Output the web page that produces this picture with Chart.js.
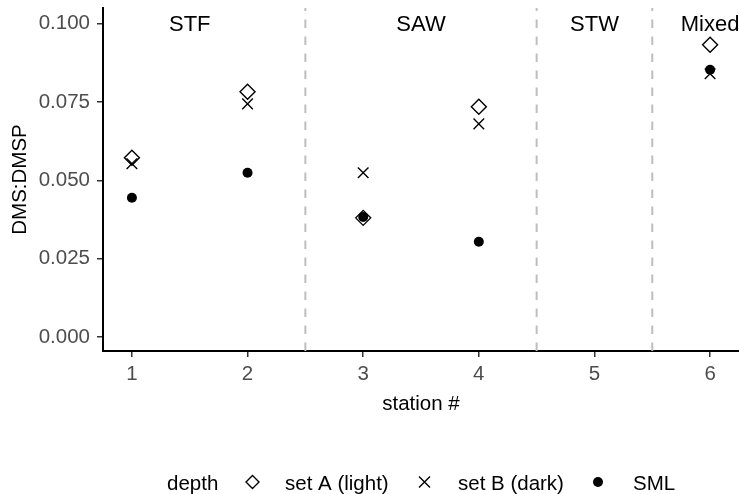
<!DOCTYPE html>
<html><head><meta charset="utf-8">
<script src="https://cdn.jsdelivr.net/npm/chart.js@4"></script>
<style>html,body{margin:0;padding:0;background:#fff;overflow:hidden}#wrap{width:739px;height:494px;position:relative}</style>
</head><body><div id="wrap"><canvas id="c" width="739" height="494"></canvas></div>
<script>
const stations = [1, 2, 3, 4, 6];
const setA = [0.0572, 0.0783, 0.0380, 0.0735, 0.0933];
const setB = [0.0553, 0.0744, 0.0524, 0.0680, 0.0840];
const sml = [0.0444, 0.0524, 0.0383, 0.0304, 0.0853];
const xTicks = [1, 2, 3, 4, 5, 6];
const yTicks = [0, 0.025, 0.05, 0.075, 0.1];
const boundaries = [2.5, 4.5, 5.5];
const regionNames = ['STF', 'SAW', 'STW', 'Mixed'];
const regionPos = [1.5, 3.5, 5, 6];
const legendTitle = 'depth';
const seriesNames = ['set A (light)', 'set B (dark)', 'SML'];

const FONT = "'Liberation Sans', Arial, sans-serif";
const toPts = arr => stations.map((s, i) => ({x: s, y: arr[i]}));

const decor = {
  id: 'decor',
  beforeDatasetsDraw(chart) {
    const {ctx, scales: {x, y}, chartArea: a} = chart;
    ctx.save();
    ctx.strokeStyle = '#bebebe';
    ctx.lineWidth = 2;
    ctx.setLineDash([8.5, 8.5]);
    boundaries.forEach(b => {
      const px = x.getPixelForValue(b);
      ctx.beginPath(); ctx.moveTo(px, a.bottom); ctx.lineTo(px, a.top); ctx.stroke();
    });
    ctx.restore();
    ctx.save();
    ctx.fillStyle = '#000';
    ctx.font = '22px ' + FONT;
    ctx.textAlign = 'center'; ctx.textBaseline = 'middle';
    regionNames.forEach((n, i) => {
      ctx.fillText(n, x.getPixelForValue(regionPos[i]), y.getPixelForValue(0.1) + 1);
    });
    ctx.restore();
  },
  afterDraw(chart) {
    const ctx = chart.ctx;
    ctx.save();
    ctx.fillStyle = '#000'; ctx.strokeStyle = '#000';
    ctx.font = '20.5px ' + FONT;
    ctx.textBaseline = 'alphabetic'; ctx.textAlign = 'left';
    const base = 490, cy = 482;
    ctx.fillText(legendTitle, 167, base);
    ctx.lineWidth = 1.4;
    let cx = 252.5;
    ctx.beginPath(); ctx.moveTo(cx, cy - 6.5); ctx.lineTo(cx + 6.5, cy); ctx.lineTo(cx, cy + 6.5); ctx.lineTo(cx - 6.5, cy); ctx.closePath(); ctx.stroke();
    ctx.fillText(seriesNames[0], 285, base);
    cx = 424.5;
    ctx.beginPath(); ctx.moveTo(cx - 5.5, cy - 5.5); ctx.lineTo(cx + 5.5, cy + 5.5); ctx.moveTo(cx + 5.5, cy - 5.5); ctx.lineTo(cx - 5.5, cy + 5.5); ctx.stroke();
    ctx.fillText(seriesNames[1], 458, base);
    cx = 598;
    ctx.beginPath(); ctx.arc(cx, cy, 5, 0, Math.PI * 2); ctx.fill();
    ctx.fillText(seriesNames[2], 633, base);
    ctx.restore();
  }
};

new Chart(document.getElementById('c'), {
  type: 'scatter',
  data: {
    datasets: [
      {label: seriesNames[0], data: toPts(setA), pointStyle: 'rectRot', pointRadius: 7.5, pointBorderWidth: 1.4, borderColor: '#000', backgroundColor: 'rgba(0,0,0,0)', pointBackgroundColor: 'rgba(0,0,0,0)'},
      {label: seriesNames[1], data: toPts(setB), pointStyle: 'crossRot', pointRadius: 7.5, pointBorderWidth: 1.4, borderColor: '#000', backgroundColor: '#000'},
      {label: seriesNames[2], data: toPts(sml), pointStyle: 'circle', pointRadius: 5, pointBorderWidth: 0, borderColor: '#000', backgroundColor: '#000'}
    ]
  },
  options: {
    responsive: false,
    animation: false,
    layout: {autoPadding: false, padding: {left: 0, right: 0, top: 8, bottom: 77}},
    plugins: {legend: {display: false}, tooltip: {enabled: false}},
    scales: {
      x: {
        type: 'linear', min: 0.75, max: 6.25,
        afterBuildTicks: s => { s.ticks = xTicks.map(v => ({value: v})); },
        afterFit: s => { s.height = 66; s.paddingLeft = 0; s.paddingRight = 0; },
        ticks: {color: '#4d4d4d', font: {family: FONT, size: 20.5}, padding: 5, maxRotation: 0, callback: v => String(v)},
        grid: {drawOnChartArea: false, drawTicks: true, tickLength: 6, color: '#333', lineWidth: 1.5},
        border: {display: true, color: '#000', width: 2},
        title: {display: true, text: 'station #', color: '#000', font: {family: FONT, size: 20.5}, padding: {top: 0, bottom: 0}}
      },
      y: {
        type: 'linear', min: -0.0045, max: 0.105,
        afterBuildTicks: s => { s.ticks = yTicks.map(v => ({value: v})); },
        afterFit: s => { s.width = 103; s.paddingTop = 0; s.paddingBottom = 0; },
        ticks: {color: '#4d4d4d', font: {family: FONT, size: 20.5}, padding: 7, callback: v => v.toFixed(3)},
        grid: {drawOnChartArea: false, drawTicks: true, tickLength: 6, color: '#333', lineWidth: 1.5},
        border: {display: true, color: '#000', width: 2},
        title: {display: true, text: 'DMS:DMSP', color: '#000', font: {family: FONT, size: 20.5}, padding: {top: 8, bottom: 0}}
      }
    }
  },
  plugins: [decor]
});
</script></body></html>
